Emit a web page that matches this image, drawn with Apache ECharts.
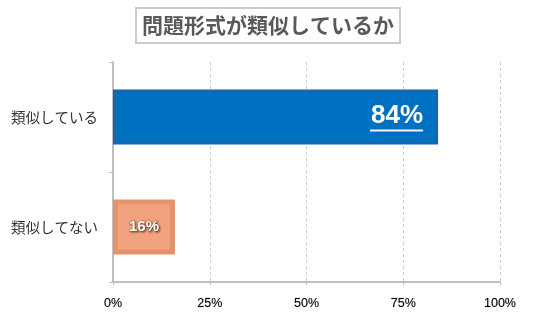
<!DOCTYPE html>
<html>
<head>
<meta charset="utf-8">
<script src="https://cdn.jsdelivr.net/npm/echarts@6/dist/echarts.min.js"></script>
<style>
  html, body { margin: 0; padding: 0; background: #fff; }
  #chart { width: 536px; height: 323px; }
</style>
</head>
<body>
<div id="chart"></div>
<script>
// Survey: are the question formats similar?
const categories = ['類似している', '類似してない'];
const shares = [84, 16];
const xTicks = [0, 25, 50, 75, 100];

const barStyles = [
  { color: '#0070C0', borderColor: '#1a63a8', borderWidth: 2 },
  { color: '#F2A37E', borderColor: '#E4936E', borderWidth: 5 }
];

const labelStyles = [
  {
    show: true,
    position: 'insideRight',
    distance: 15,
    formatter: p => '{v|' + p.value + '%}\n{u|}',
    rich: {
      v: { color: '#fff', fontSize: 26, fontWeight: 'bold', fontFamily: 'Liberation Sans', lineHeight: 27 },
      u: { width: 53, height: 2, backgroundColor: '#f4f4f4' }
    }
  },
  {
    show: true,
    position: 'inside',
    formatter: p => p.value + '%',
    color: '#fff',
    fontSize: 15,
    fontWeight: 'bold',
    fontFamily: 'Liberation Sans',
    textBorderColor: '#9a6a50',
    textBorderWidth: 1,
    textShadowColor: 'rgba(80,40,20,0.6)',
    textShadowBlur: 2,
    textShadowOffsetX: 1,
    textShadowOffsetY: 1
  }
];

const chart = echarts.init(document.getElementById('chart'), null, { renderer: 'canvas' });
chart.setOption({
  animation: false,
  title: {
    text: '問題形式が類似しているか',
    left: 'center',
    top: 8,
    padding: [7, 6, 7, 6],
    borderColor: '#cccccc',
    borderWidth: 2,
    textStyle: {
      fontFamily: 'Noto Sans CJK JP',
      fontSize: 21,
      fontWeight: 'bold',
      color: '#595959'
    }
  },
  grid: { left: 113, right: 36, top: 62, bottom: 41, containLabel: false },
  xAxis: {
    type: 'value',
    min: xTicks[0],
    max: xTicks[xTicks.length - 1],
    interval: 25,
    axisLine: { show: true, lineStyle: { color: '#bfbfbf', width: 2 } },
    axisTick: { show: true, length: 3, lineStyle: { color: '#bfbfbf' } },
    splitLine: { show: true, lineStyle: { type: [3, 3], color: '#b9d3dc', width: 1 } },
    axisLabel: {
      formatter: v => v + '%',
      color: '#000',
      fontSize: 12.5,
      fontFamily: 'Liberation Sans',
      textBorderColor: 'rgba(0,0,0,0.35)',
      textBorderWidth: 0.4,
      margin: 15
    }
  },
  yAxis: {
    type: 'category',
    inverse: true,
    data: categories,
    axisLine: { show: true, lineStyle: { color: '#bfbfbf', width: 2 } },
    axisTick: { show: true, length: 4, lineStyle: { color: '#bfbfbf' } },
    axisLabel: {
      color: '#333',
      fontSize: 14.5,
      fontFamily: 'Noto Sans CJK JP',
      margin: 15
    }
  },
  series: [{
    type: 'bar',
    barWidth: '50%',
    data: shares.map((v, i) => ({
      value: v,
      itemStyle: barStyles[i],
      label: labelStyles[i]
    }))
  }]
});
</script>
</body>
</html>
